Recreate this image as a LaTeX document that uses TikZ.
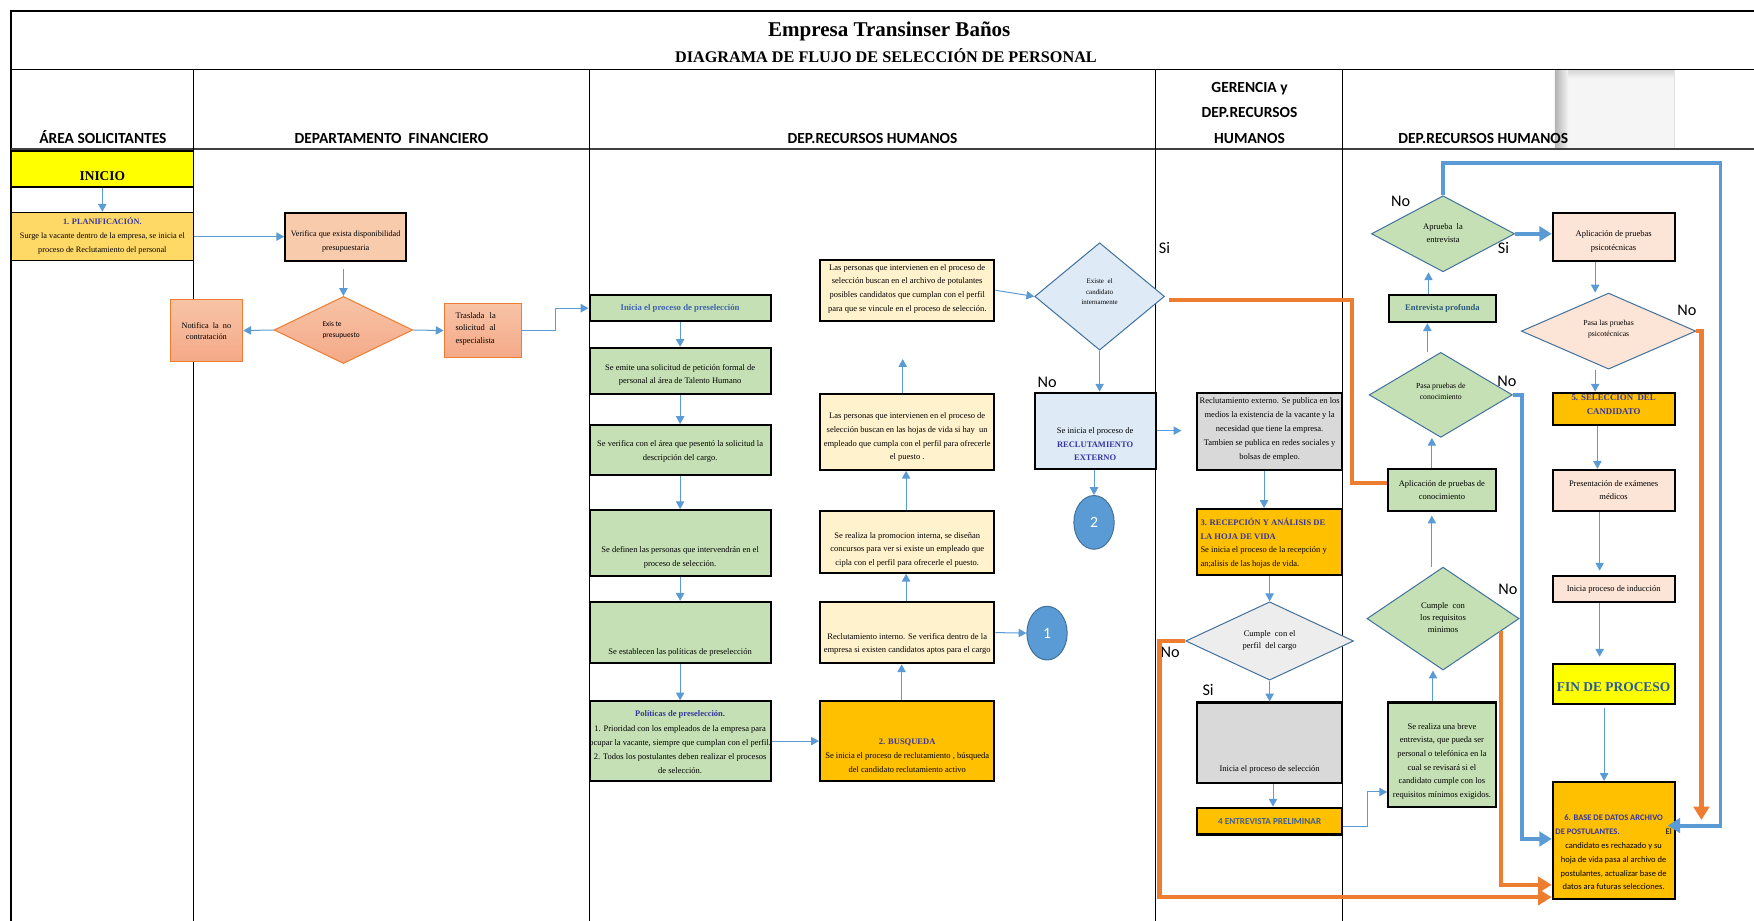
\documentclass[tikz,border=0pt]{standalone}
\usepackage{fontspec}
\setmainfont{Liberation Serif}
\newfontfamily\calib{Carlito}
\usetikzlibrary{arrows.meta,shapes.geometric}

\definecolor{startyellow}{HTML}{FFFF00}
\definecolor{planyellow}{HTML}{FFD966}
\definecolor{salmonfill}{HTML}{F8CBAD}
\definecolor{salmontop}{HTML}{F8C3A6}
\definecolor{salmonbot}{HTML}{F4A988}
\definecolor{arrowblue}{HTML}{5B9BD5}
\definecolor{linkorange}{HTML}{ED7D31}
\definecolor{greenfill}{HTML}{C5E0B4}
\definecolor{creamfill}{HTML}{FFF2CC}
\definecolor{goldfill}{HTML}{FFC000}
\definecolor{peachfill}{HTML}{FCE4D6}
\definecolor{paleblue}{HTML}{DEEBF7}
\definecolor{greyfill}{HTML}{D9D9D9}
\definecolor{diamondgrey}{HTML}{EDEDED}
\definecolor{diamondedge}{HTML}{41719C}
\definecolor{headblue}{HTML}{3535A0}
\definecolor{preblue}{HTML}{3F62B0}
\definecolor{profblue}{HTML}{2E5C7E}
\definecolor{finblue}{HTML}{2858A0}
\definecolor{entblue}{HTML}{3F5F8F}

\newcommand{\smalltxt}{\fontsize{7.6}{12.2}\selectfont}
\newcommand{\hl}[1]{{\color{headblue}\bfseries #1}}

% box given by its corners: [style]{x1}{y1}{x2}{y2}{name}
\newcommand{\flowbox}[6][]{%
  \node[box,#1,minimum width={(#4-#2)*1pt},minimum height={(#5-#3)*1pt}] (#6) at ({(#2+#4)/2},{(#3+#5)/2}) {};}
% decision given by centre and half sizes: [style]{cx}{cy}{hw}{hh}{name}
\newcommand{\flowdia}[6][]{%
  \node[dia,#1,minimum width={(#4)*2pt},minimum height={(#5)*2pt}] (#6) at (#2,#3) {};}

\begin{document}
\begin{tikzpicture}[x=1pt,y=-1pt,
  box/.style={draw=black,line width=1.8pt,inner sep=0pt},
  dia/.style={diamond,draw=diamondedge,line width=0.9pt,inner sep=0pt},
  txt/.style={align=center,inner sep=0pt,font=\smalltxt},
  hdr/.style={anchor=base,inner sep=0pt,font=\calib\fontsize{13.8}{16}\selectfont\bfseries},
  answer/.style={inner sep=0pt,font=\calib\fontsize{14.5}{16}\selectfont},
  arr/.style={draw=arrowblue,line width=0.9pt,-{Triangle[length=7pt,width=7.5pt]}},
  tarr/.style={draw=arrowblue,line width=3.5pt,-{Triangle[length=11pt,width=13pt]}},
  oline/.style={draw=linkorange,line width=3.8pt},
  oarr/.style={oline,-{Triangle[length=12pt,width=14pt]}},
  salmon/.style={top color=salmontop,bottom color=salmonbot,draw=linkorange,line width=0.9pt},
  circ/.style={ellipse,fill=arrowblue,draw=diamondedge,line width=0.9pt,minimum width=36pt,minimum height=48pt,inner sep=0pt,text=white,font=\calib\fontsize{14}{16}\selectfont}
]
\useasboundingbox (0,0) rectangle (1568,823.3);

% ---------- frame and lanes ----------
\fill[black!4] (1390,62) rectangle (1497,133);
\shade[left color=black!30,right color=black!4] (1390,63) rectangle (1402,133);
\shade[top color=black!15,bottom color=black!4] (1402,63) rectangle (1497,70);
\draw[black!12] (1497,62) -- (1497,133);

\draw[line width=2.2pt] (10,823.3) -- (10,10) -- (1568,10);
\draw[line width=0.9pt] (10,62) -- (1568,62);
\draw[line width=1.6pt,black!75] (10,133) -- (1568,133);
\foreach \cx in {173,527,1033,1200} {\draw[line width=1.3pt] (\cx,62) -- (\cx,823.3);}

\node[anchor=base,inner sep=0pt,font=\fontsize{18.8}{20}\selectfont\bfseries] (title) at (795,33) {Empresa Transinser Baños};
\node[anchor=base,inner sep=0pt,font=\fontsize{14.5}{16}\selectfont\bfseries] (subtitle) at (792,56) {DIAGRAMA DE FLUJO DE SELECCIÓN DE PERSONAL};

\node[hdr] (h1) at (92,128) {ÁREA SOLICITANTES};
\node[hdr] (h2) at (350,128) {DEPARTAMENTO\ \ FINANCIERO};
\node[hdr] (h3) at (780,128) {DEP.RECURSOS HUMANOS};
\node[hdr] (h4a) at (1117,83) {GERENCIA y};
\node[hdr] (h4b) at (1117,105) {DEP.RECURSOS};
\node[hdr] (h4c) at (1117,128) {HUMANOS};
\node[hdr] (h5) at (1326,128) {DEP.RECURSOS HUMANOS};

% ---------- requesting area and finance ----------
\flowbox[fill=startyellow,line width=1.4pt]{10}{135}{173}{167}{inicio}
\node[inner sep=0pt,font=\fontsize{12}{14}\selectfont\bfseries] (iniciot) at (91.5,157) {INICIO};

\flowbox[fill=planyellow,line width=1.4pt]{10}{190}{173}{233}{plan}
\node[txt,font=\fontsize{7.4}{12.5}\selectfont] (plant) at (91.5,210.5) {\hl{1. PLANIFICACIÓN.}\\Surge la vacante dentro de la empresa, se inicia el\\proceso de Reclutamiento del personal};

\flowbox[fill=salmonfill]{255}{190}{363}{233}{verif}
\node[txt,font=\fontsize{7.3}{12}\selectfont] (veriftxt) at (309,216) {Verifica que exista disponibilidad\\presupuestaria};

\flowdia[salmon]{307}{295}{62}{30}{presup}
\node[txt,align=left,font=\calib\fontsize{6.6}{10}\selectfont] (presuptxt) at (305,295) {Exis te\\presupuesto};

\flowbox[salmon]{152}{268}{217}{323}{notif}
\node[txt,font=\fontsize{7.4}{10.5}\selectfont] (notiftxt) at (184.5,296) {Notifica\ \ la\ \ no\\contratación};

\flowbox[salmon]{397}{271}{466}{320}{trasl}
\node[txt,align=left,anchor=west,font=\fontsize{7.6}{11.5}\selectfont] (trasltxt) at (407,294) {\makebox[36pt][s]{Traslada la}\\\makebox[36pt][s]{solicitud al}\\especialista};

% ---------- human resources: preselection ----------
\flowbox[fill=greenfill]{527}{264}{689}{287}{pre1}
\node[txt,font=\fontsize{7.8}{12}\selectfont\bfseries,text=preblue] (pre1t) at (608,276) {Inicia el proceso de preselección};

\flowbox[fill=greenfill]{527}{311}{689}{352}{pre2}
\node[txt] (pre2t) at (608,335) {Se emite una solicitud de petición formal de\\personal al área de Talento Humano};

\flowbox[fill=greenfill]{527}{380}{689}{425}{pre3}
\node[txt] (pre3t) at (608,403.5) {Se verifica con el área que pesentó la solicitud la\\descripción del cargo.};

\flowbox[fill=greenfill]{527}{456}{689}{515}{pre4}
\node[txt] (pre4t) at (608,498.5) {Se definen las personas que intervendrán en el\\proceso de selección.};

\flowbox[fill=greenfill]{527}{538}{689}{593}{pre5}
\node[txt] (pre5t) at (608,583) {Se establecen las políticas de preselección};

\flowbox[fill=greenfill]{527}{627}{689}{698}{pre6}
\node[txt,font=\fontsize{7.6}{12.6}\selectfont] (pre6t) at (608,663.5) {\hl{Políticas de preselección.}\\1. Prioridad con los empleados de la empresa para\\ocupar la vacante, siempre que cumplan con el perfil.\\2. Todos los postulantes deben realizar el procesos\\de selección.};

% ---------- human resources: internal search ----------
\flowbox[fill=goldfill]{733}{627}{889}{698}{busq}
\node[txt] (busqt) at (811,675.5) {\hl{2. BUSQUEDA}\\Se inicia el proceso de reclutamiento , búsqueda\\del candidato reclutamiento activo};

\flowbox[fill=creamfill]{733}{538}{889}{593}{recint}
\node[txt] (recintt) at (811,575.5) {Reclutamiento interno. Se verifica dentro de la\\empresa si existen candidatos aptos para el cargo};

\flowbox[fill=creamfill]{733}{457}{889}{512}{promo}
\node[txt] (promot) at (811,491.5) {Se realiza la promocion interna, se diseñan\\concursos para ver si existe un empleado que\\cipla con el perfil para ofrecerle el puesto.};

\flowbox[fill=creamfill]{733}{352}{889}{420}{hojas}
\node[txt] (hojast) at (811,391) {Las personas que intervienen en el proceso de\\selección buscan en las hojas de vida si hay\ \ un\\empleado que cumpla con el perfil para ofrecerle\\el puesto .};

\flowbox[fill=creamfill]{733}{232}{889}{287}{archivo}
\node[txt] (archivot) at (811,258) {Las personas que intervienen en el proceso de\\selección buscan en el archivo de potulantes\\posibles candidatos que cumplan con el perfil\\para que se vincule en el proceso de selección.};

\flowdia[fill=paleblue]{983}{265}{58}{48}{intdia}
\node[txt,font=\fontsize{6.2}{9.5}\selectfont] (intdiat) at (983,261) {Existe\ \ el\\candidato\\internamente};

\flowbox[fill=paleblue]{925}{351}{1033}{419}{recext}
\node[txt] (recextt) at (979,397) {Se inicia el proceso de\\\hl{RECLUTAMIENTO}\\\hl{EXTERNO}};

\node[circ] (c1) at (936,566) {1};
\node[circ] (c2) at (978,467) {2};

% ---------- management ----------
\flowbox[fill=greyfill]{1070}{351}{1200}{420}{pub}
\node[txt,font=\fontsize{7.6}{12.5}\selectfont] (pubt) at (1135,384) {Reclutamiento externo. Se publica en los\\medios la existencia de la vacante y la\\necesidad que tiene la empresa.\\Tambien se publica en redes sociales y\\bolsas de empleo.};

\flowbox[fill=goldfill]{1070}{455}{1200}{514}{recep}
\node[txt,align=left,anchor=west] (recept) at (1073,485.5) {\hl{3. RECEPCIÓN Y ANÁLISIS DE}\\\hl{LA HOJA DE VIDA}\\Se inicia el proceso de la recepción y\\an;alisis de las hojas de vida.};

\flowdia[fill=diamondgrey]{1135}{573}{75}{35}{perfil}
\node[txt,font=\fontsize{7.6}{11}\selectfont] (perfilt) at (1135,572.5) {Cumple\ \ con el\\perfil\ \ del cargo};

\flowbox[fill=greyfill]{1070}{628}{1200}{700}{inisel}
\node[txt] (iniselt) at (1135,688) {Inicia el proceso de selección};

\flowbox[fill=goldfill]{1070}{722}{1200}{746}{ent4}
\node[txt,font=\calib\fontsize{8.2}{10}\selectfont\bfseries,text=entblue] (ent4t) at (1135,734) {4 ENTREVISTA PRELIMINAR};

% ---------- human resources: evaluation ----------
\flowbox[fill=greenfill]{1241}{628}{1337}{721}{breve}
\node[txt] (brevet) at (1289,680.5) {Se realiza una breve\\entrevista, que pueda ser\\personal o telefónica en la\\cual se revisará si el\\candidato cumple con los\\requisitos mínimos exigidos.};

\flowdia[fill=greenfill]{1290}{553}{68}{46}{req}
\node[txt,font=\fontsize{7.7}{11}\selectfont] (reqt) at (1290,552) {Cumple\ \ con\\los requisitos\\minimos};

\flowbox[fill=greenfill]{1241}{419}{1337}{457}{aplcon}
\node[txt] (aplcont) at (1289,438) {Aplicación de pruebas de\\conocimiento};

\flowdia[fill=greenfill]{1288}{353}{64}{38}{con}
\node[txt,font=\fontsize{6.9}{10}\selectfont] (cont) at (1288,350) {Pasa pruebas de\\conocimiento};

\flowbox[fill=greenfill]{1242}{264}{1337}{288}{entprof}
\node[txt,font=\fontsize{7.7}{10}\selectfont\bfseries,text=profblue] (entproft) at (1289.5,276) {Entrevista profunda};

\flowdia[fill=greenfill]{1290}{209}{64}{34}{apr}
\node[txt,font=\fontsize{7.6}{11}\selectfont] (aprt) at (1290,208.5) {Aprueba\ \ la\\entrevista};

\flowbox[fill=peachfill]{1388}{190}{1497}{233}{psico}
\node[txt] (psicot) at (1442.5,216) {Aplicación de pruebas\\psicotécnicas};

\flowdia[fill=peachfill]{1438}{296}{78}{34}{psi}
\node[txt,font=\fontsize{6.9}{10}\selectfont] (psit) at (1438,294) {Pasa las pruebas\\psicotécnicas};

\flowbox[fill=goldfill]{1388}{351}{1497}{380}{sel5}
\node[txt,font=\fontsize{7.9}{12.5}\selectfont] (sel5t) at (1442.5,362) {\hl{5. SELECCION\ \ DEL}\\\hl{CANDIDATO}};

\flowbox[fill=peachfill]{1388}{420}{1497}{457}{medicos}
\node[txt] (medicost) at (1442.5,438) {Presentación de exámenes\\médicos};

\flowbox[fill=peachfill]{1388}{515}{1497}{538}{induc}
\node[txt] (induct) at (1442.5,526.5) {Inicia proceso de inducción};

\flowbox[fill=startyellow]{1388}{594}{1497}{629}{fin}
\node[inner sep=0pt,font=\fontsize{12}{14}\selectfont\bfseries,text=finblue] (fint) at (1442.5,614) {FIN DE PROCESO};

\flowbox[fill=goldfill]{1388}{699}{1497}{804}{base}
\node[txt,font=\calib\fontsize{7.6}{12.4}\selectfont] (baset) at (1442.5,762) {\hl{6. BASE DE DATOS ARCHIVO}\\\makebox[104pt]{\hl{DE POSTULANTES.}\hfill El}\\candidato es rechazado y su\\hoja de vida pasa al archivo de\\postulantes, actualizar base de\\datos ara futuras selecciones.};

% ---------- answers on the decisions ----------
\node[answer] (si1) at (1041,222) {Si};
\node[answer] (no1) at (936,342) {No};
\node[answer] (no2) at (1046,583) {No};
\node[answer] (si2) at (1080,617) {Si};
\node[answer] (no3) at (1252,180) {No};
\node[answer] (si3) at (1344,222) {Si};
\node[answer] (no4) at (1508,277) {No};
\node[answer] (no5) at (1347,341) {No};
\node[answer] (no6) at (1348,527) {No};

% ---------- thin connectors ----------
\draw[arr] (inicio.south) -- (plan.north);
\draw[arr] (plan.east) -- (verif.west);
\draw[arr] ([yshift=-7pt]presup.north |- verif.south) -- (presup.north);
\draw[arr] (presup.west) -- (notif.east);
\draw[arr] (presup.east) -- (trasl.west);
\draw[arr] (trasl.east) -- ++(30,0) |- (pre1.west);

\draw[arr] (pre1.south) -- (pre2.north);
\draw[arr] (pre2.south) -- (pre3.north);
\draw[arr] (pre3.south) -- (pre4.north);
\draw[arr] (pre4.south) -- (pre5.north);
\draw[arr] (pre5.south) -- (pre6.north);
\draw[arr] (pre6.east) -- (busq.west);

\draw[arr] ([xshift=-5pt]busq.north) -- ([xshift=-5pt]recint.south);
\draw[arr] (recint.east) -- (c1.west);
\draw[arr] ([xshift=-1pt]recint.north) -- ([xshift=-1pt]promo.south);
\draw[arr] ([xshift=-1pt]promo.north) -- ([xshift=-1pt]hojas.south);
\coordinate (hojasup) at (807,321);
\draw[arr] ([xshift=-4pt]hojas.north) -- (hojasup);
\draw[arr] (archivo.east) -- (intdia.west);
\draw[arr] (intdia.south) -- (intdia.south |- recext.north);
\draw[arr] (c2.north |- recext.south) -- (c2.north);
\draw[arr] (recext.east) -- ([xshift=-13pt]pub.west |- recext.east);

\draw[arr] ([xshift=-5pt]pub.south) -- ([xshift=-5pt]recep.north);
\draw[arr] (recep.south) -- (perfil.north);
\draw[arr] (perfil.south) -- (inisel.north);
\draw[arr] ([xshift=3pt]inisel.south) -- ([xshift=3pt]ent4.north);
\draw[arr] ([yshift=-5pt]ent4.east) -- ++(22,0) |- ([yshift=-33.5pt]breve.west);

\draw[arr] ([xshift=-8pt]breve.north) -- ([xshift=-8pt]breve.north |- req.south);
\draw[arr] ([xshift=-9pt]aplcon.south |- req.north) -- ([xshift=-9pt,yshift=-3pt]aplcon.south);
\draw[arr] ([xshift=-9pt]aplcon.north) -- ([xshift=-8pt]con.south);
\draw[arr] ([xshift=-12pt]con.north) -- ([xshift=-13.5pt]entprof.south);
\draw[arr] ([xshift=-12.5pt]entprof.north) -- ([xshift=-12.5pt]entprof.north |- apr.south);

\draw[arr] ([xshift=-16.5pt]psico.south) -- ([xshift=-16.5pt]psico.south |- psi.north);
\draw[arr] ([xshift=-16.5pt]sel5.north |- psi.south) -- ([xshift=-16.5pt]sel5.north);
\draw[arr] ([xshift=-14.5pt]sel5.south) -- ([xshift=-14.5pt]medicos.north);
\draw[arr] ([xshift=-12.5pt]medicos.south) -- ([xshift=-12.5pt,yshift=4pt]induc.north);
\draw[arr] ([xshift=-12.5pt]induc.south) -- ([xshift=-12.5pt,yshift=6pt]fin.north);
\draw[arr] ([xshift=-8.5pt,yshift=-3pt]fin.south) -- ([xshift=-8.5pt]base.north);

% ---------- thick connectors ----------
\draw[tarr] (apr.east) -- (apr.east -| psico.west);
\draw[oline] ([xshift=4pt,yshift=-3pt]intdia.east) -- ++(163,0) |- ([yshift=6pt]aplcon.west);
\draw[oarr] (perfil.west) -- ++(-23,0) |- ([yshift=-50.5pt]base.west);
\draw[oarr] (req.-12) |- ([yshift=-39.5pt]base.west);
\draw[tarr] (con.east) -- ++(8,0) |- ([yshift=1.5pt]base.west);
\draw[tarr] (apr.north) -- ++(0,-29) -- ++(248,0) |- ([xshift=-7pt,yshift=13.5pt]base.east);
\coordinate (psino) at (1521,733);
\draw[oarr] (psi.east) -| (psino);
\end{tikzpicture}
\end{document}
